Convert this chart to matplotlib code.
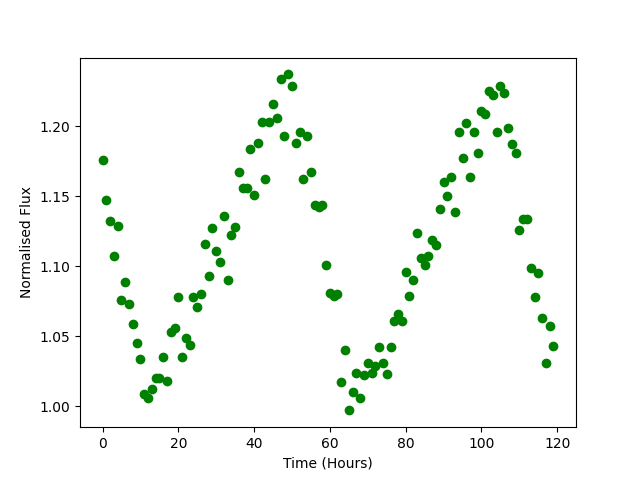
import numpy as np
import matplotlib
matplotlib.use('Agg')
import matplotlib.pyplot as plt

# time in hours
hours = [0, 1, 2, 3, 4, 5, 6, 7, 8, 9, 10, 11, 12, 13, 14, 15, 16, 17, 18, 19,
         20, 21, 22, 23, 24, 25, 26, 27, 28, 29, 30, 31, 32, 33, 34, 35, 36, 37, 38, 39,
         40, 41, 42, 43, 44, 45, 46, 47, 48, 49, 50, 51, 52, 53, 54, 55, 56, 57, 58, 59,
         60, 61, 62, 63, 64, 65, 66, 67, 68, 69, 70, 71, 72, 73, 74, 75, 76, 77, 78, 79,
         80, 81, 82, 83, 84, 85, 86, 87, 88, 89, 90, 91, 92, 93, 94, 95, 96, 97, 98, 99,
         100, 101, 102, 103, 104, 105, 106, 107, 108, 109, 110, 111, 112, 113, 114, 115,
         116, 117, 118, 119]

# normalised flux
flux = [1.176, 1.147, 1.132, 1.107, 1.129, 1.076, 1.089, 1.073, 1.059, 1.045,
        1.034, 1.009, 1.006, 1.012, 1.020, 1.020, 1.035, 1.018, 1.053, 1.056,
        1.078, 1.035, 1.049, 1.044, 1.078, 1.071, 1.080, 1.116, 1.093, 1.127,
        1.111, 1.103, 1.136, 1.090, 1.122, 1.128, 1.167, 1.156, 1.156, 1.184,
        1.151, 1.188, 1.203, 1.162, 1.203, 1.216, 1.206, 1.234, 1.193, 1.237,
        1.229, 1.188, 1.196, 1.162, 1.193, 1.167, 1.144, 1.142, 1.144, 1.101,
        1.081, 1.079, 1.080, 1.017, 1.040, 0.997, 1.010, 1.024, 1.006, 1.022,
        1.031, 1.024, 1.029, 1.042, 1.031, 1.023, 1.042, 1.061, 1.066, 1.061,
        1.096, 1.079, 1.090, 1.124, 1.106, 1.101, 1.107, 1.119, 1.115, 1.141,
        1.160, 1.150, 1.164, 1.139, 1.196, 1.177, 1.202, 1.164, 1.196, 1.181,
        1.211, 1.209, 1.225, 1.222, 1.196, 1.229, 1.224, 1.199, 1.187, 1.181,
        1.126, 1.134, 1.134, 1.099, 1.078, 1.095, 1.063, 1.031, 1.057, 1.043]

plt.figure(figsize=(6.4, 4.8), dpi=100)
plt.plot(hours, flux, 'o', color='green')
plt.xlabel("Time (Hours)")
plt.ylabel("Normalised Flux")
plt.savefig("out.png")
